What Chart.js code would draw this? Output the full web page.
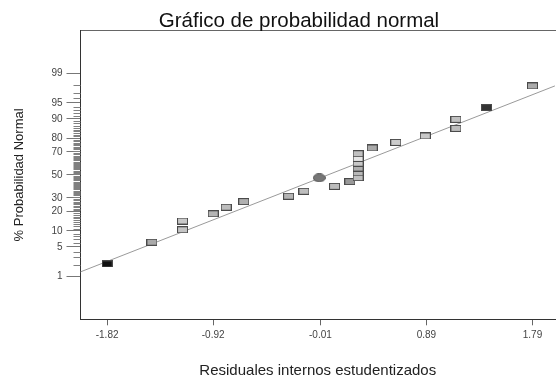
<!DOCTYPE html>
<html>
<head>
<meta charset="utf-8">
<script src="https://cdn.jsdelivr.net/npm/chart.js@4/dist/chart.umd.min.js"></script>
<style>
  html, body { margin: 0; padding: 0; background: #fff; }
  #wrap { width: 560px; height: 380px; }
</style>
</head>
<body>
<div id="wrap"><canvas id="c" width="560" height="380"></canvas></div>
<script>
// Internally studentized residuals, sorted, with their normal probability (%)
const residuals   = [-1.82, -1.44, -1.18, -1.18, -0.92, -0.81, -0.66, -0.28, -0.15, 0.11, 0.24,
                     0.31, 0.31, 0.31, 0.31, 0.31, 0.31, 0.43, 0.63, 0.88, 1.14, 1.14, 1.40, 1.79];
const probability = [2.1, 6.2, 10.5, 14.6, 18.7, 23.0, 27.1, 31.3, 35.4, 39.7, 43.9,
                     47.5, 51.9, 56.2, 60.5, 64.7, 68.6, 73.1, 77.1, 81.3, 85.6, 89.8, 93.8, 97.9];

// Highlighted run near the centre
const centerResidual = [-0.02];
const centerProb     = [47.3];

// Reference line end points (residual, % probability)
const fitResidual = [-2.05, 1.98];
const fitProb     = [1.32, 97.9];

// Axis ticks
const xTicks   = [-1.82, -0.92, -0.01, 0.89, 1.79];
const yTickPct = [1, 5, 10, 20, 30, 50, 70, 80, 90, 95, 99];
const minorTickPct = Array.from({ length: 99 }, (_, i) => i + 1).filter(p => !yTickPct.includes(p));

// Marker fills, one per residual
const boxFills = ['#111111', '#aaaaaa', '#c4c4c4', '#c8c8c8', '#b4b4b4', '#bdbdbd', '#b0b0b0',
                  '#b4b4b4', '#bdbdbd', '#bbbbbb', '#999999',
                  '#c0c0c0', '#b8b8b8', '#b0b0b0', '#c8c8c8', '#e6e6e6', '#c0c0c0',
                  '#aaaaaa', '#cccccc', '#c8c8c8', '#bdbdbd', '#c0c0c0', '#333333', '#aaaaaa'];

// Inverse standard normal CDF (Acklam), maps % probability to the z scale
function zOf(pct) {
  const p = pct / 100;
  const a = [-3.969683028665376e+01, 2.209460984245205e+02, -2.759285104469687e+02, 1.383577518672690e+02, -3.066479806614716e+01, 2.506628277459239e+00];
  const b = [-5.447609879822406e+01, 1.615858368580409e+02, -1.556989798598866e+02, 6.680131188771972e+01, -1.328068155288572e+01];
  const c = [-7.784894002430293e-03, -3.223964580411365e-01, -2.400758277161838e+00, -2.549732539343734e+00, 4.374664141464968e+00, 2.938163982698783e+00];
  const d = [7.784695709041462e-03, 3.224671290700398e-01, 2.445134137142996e+00, 3.754408661907416e+00];
  const pl = 0.02425, ph = 1 - pl;
  let q, r;
  if (p < pl) {
    q = Math.sqrt(-2 * Math.log(p));
    return (((((c[0]*q+c[1])*q+c[2])*q+c[3])*q+c[4])*q+c[5]) / ((((d[0]*q+d[1])*q+d[2])*q+d[3])*q+1);
  } else if (p <= ph) {
    q = p - 0.5; r = q * q;
    return (((((a[0]*r+a[1])*r+a[2])*r+a[3])*r+a[4])*r+a[5])*q / (((((b[0]*r+b[1])*r+b[2])*r+b[3])*r+b[4])*r+1);
  } else {
    q = Math.sqrt(-2 * Math.log(1 - p));
    return -(((((c[0]*q+c[1])*q+c[2])*q+c[3])*q+c[4])*q+c[5]) / ((((d[0]*q+d[1])*q+d[2])*q+d[3])*q+1);
  }
}

// Small rectangular / elliptical marker images
function makeBox(fill) {
  const cv = document.createElement('canvas');
  cv.width = 11; cv.height = 7;
  const g = cv.getContext('2d');
  g.fillStyle = fill;
  g.fillRect(0, 0, 11, 7);
  g.strokeStyle = '#4a4a4a';
  g.lineWidth = 1;
  g.strokeRect(0.5, 0.5, 10, 6);
  return cv;
}
function makeEllipse(fill) {
  const cv = document.createElement('canvas');
  cv.width = 13; cv.height = 9;
  const g = cv.getContext('2d');
  g.fillStyle = fill;
  g.strokeStyle = '#555';
  g.beginPath();
  g.ellipse(6.5, 4.5, 6, 4, 0, 0, Math.PI * 2);
  g.fill();
  g.stroke();
  return cv;
}

const FONT = 'Liberation Sans, Arial, Helvetica, sans-serif';
Chart.defaults.font.family = FONT;

// Short unlabeled ticks at every whole percent on the probability axis
const minorTicks = {
  id: 'minorTicks',
  afterDraw(chart) {
    const y = chart.scales.y, ctx = chart.ctx, left = chart.chartArea.left;
    ctx.save();
    ctx.strokeStyle = '#808080';
    ctx.lineWidth = 1;
    minorTickPct.forEach(p => {
      const py = Math.round(y.getPixelForValue(zOf(p))) + 0.5;
      ctx.beginPath();
      ctx.moveTo(left - 7, py);
      ctx.lineTo(left, py);
      ctx.stroke();
    });
    ctx.restore();
  }
};

// Chart heading
const heading = {
  id: 'heading',
  afterDraw(chart) {
    const ctx = chart.ctx;
    ctx.save();
    ctx.fillStyle = '#111';
    ctx.font = '20.5px ' + FONT;
    ctx.textAlign = 'center';
    ctx.textBaseline = 'middle';
    ctx.fillText('Gráfico de probabilidad normal', 299, 21);
    ctx.restore();
  }
};

new Chart(document.getElementById('c'), {
  type: 'scatter',
  data: {
    datasets: [
      {
        data: fitResidual.map((x, i) => ({ x, y: zOf(fitProb[i]) })),
        showLine: true,
        borderColor: '#9a9a9a',
        borderWidth: 1,
        pointRadius: 0,
        order: 3
      },
      {
        data: residuals.map((x, i) => ({ x, y: zOf(probability[i]) })),
        pointStyle: boxFills.map(makeBox),
        order: 2
      },
      {
        data: centerResidual.map((x, i) => ({ x, y: zOf(centerProb[i]) })),
        pointStyle: makeEllipse('#777777'),
        order: 1
      }
    ]
  },
  options: {
    responsive: false,
    animation: false,
    layout: { padding: { top: 30.5, left: 0, right: 0, bottom: 0 } },
    plugins: { legend: { display: false }, tooltip: { enabled: false }, title: { display: false } },
    scales: {
      x: {
        type: 'linear',
        position: 'bottom',
        min: -2.046,
        max: 1.981,
        afterBuildTicks: s => { s.ticks = xTicks.map(v => ({ value: v })); },
        afterFit: s => { s.height = 60.7; },
        ticks: {
          callback: (v, i) => xTicks[i].toFixed(2),
          color: '#444',
          font: { size: 10 },
          padding: 4,
          maxRotation: 0,
          autoSkip: false
        },
        grid: { drawOnChartArea: false, tickLength: 6, tickColor: '#666' },
        border: { color: '#333', width: 1 },
        title: {
          display: true,
          text: 'Residuales internos estudentizados',
          color: '#222',
          font: { size: 15 },
          padding: { top: 0, bottom: 0 }
        }
      },
      x2: {
        type: 'linear',
        position: 'top',
        min: -2.046,
        max: 1.981,
        afterFit: s => { s.height = 0; },
        ticks: { display: false },
        grid: { drawOnChartArea: false, drawTicks: false },
        border: { display: true, color: '#666', width: 1 }
      },
      y: {
        type: 'linear',
        position: 'left',
        min: -3.3,
        max: 3.3,
        afterBuildTicks: s => { s.ticks = yTickPct.map(p => ({ value: zOf(p) })); },
        afterFit: s => { s.width = 80.5; },
        ticks: {
          callback: (v, i) => String(yTickPct[i]),
          color: '#444',
          font: { size: 10 },
          padding: 4,
          autoSkip: false
        },
        grid: { drawOnChartArea: false, tickLength: 14, tickColor: '#777' },
        border: { color: '#333', width: 1 },
        title: {
          display: true,
          text: '% Probabilidad Normal',
          color: '#222',
          font: { size: 13 },
          padding: { top: 12, bottom: 0 }
        }
      }
    }
  },
  plugins: [minorTicks, heading]
});
</script>
</body>
</html>
